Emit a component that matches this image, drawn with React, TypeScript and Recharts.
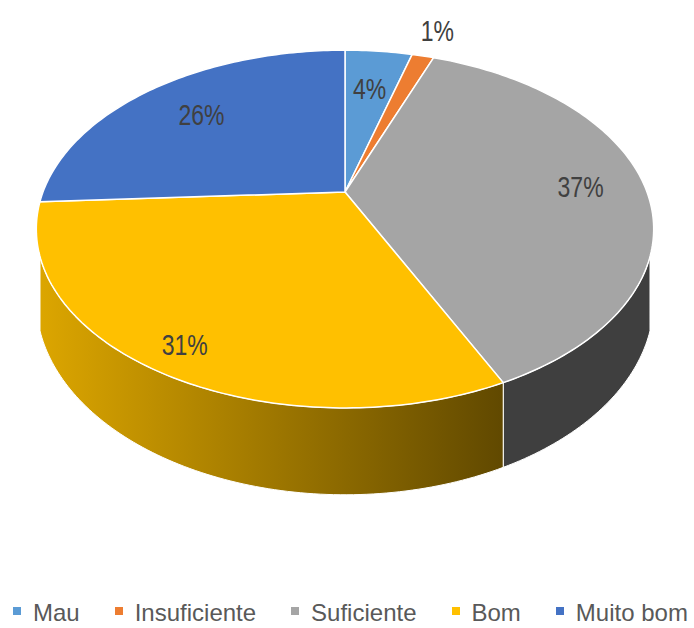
import React from "react";
import { PieChart, Pie, Legend } from "recharts";

const CATEGORIES = ["Mau", "Insuficiente", "Suficiente", "Bom", "Muito bom"];
const SHARES = [4.3, 1.4, 37.3, 31.1, 25.9];

const COLORS = ["#5B9BD5", "#ED7D31", "#A5A5A5", "#FFC000", "#4472C4"];
const FONT = "'Liberation Sans', Arial, sans-serif";

// fake 3D: the flat pie is laid on a tilted plane seen in perspective
const TILT = 0.567; // vertical squash of the disc
const PERSP = 0.207; // front bigger than back
const DEPTH = 0.228; // wall height, relative to radius
const WALL_FROM = 0.35; // walls only show on the front part of the rim

const data = CATEGORIES.map((name, i) => ({ name, value: SHARES[i], fill: COLORS[i] }));

// phi: degrees clockwise from 12 o'clock, r: fraction of radius
function project(cx: number, cy: number, R: number, phi: number, r = 1) {
  const a = (phi * Math.PI) / 180;
  const u = r * Math.sin(a);
  const v = -r * Math.cos(a);
  const s = 1 / (1 - PERSP * v);
  return { x: cx + R * u * s, y: cy + R * TILT * v * s, s };
}

function shade(hex: string, k: number) {
  const n = parseInt(hex.slice(1), 16);
  const c = [(n >> 16) & 255, (n >> 8) & 255, n & 255].map((x) => Math.round(x * k));
  return `rgb(${c.join(",")})`;
}

function arcPoints(cx: number, cy: number, R: number, a0: number, a1: number) {
  const steps = Math.max(2, Math.ceil(a1 - a0));
  const pts = [];
  for (let i = 0; i <= steps; i++) pts.push(project(cx, cy, R, a0 + ((a1 - a0) * i) / steps));
  return pts;
}

const Slice = (props: any) => {
  const { cx, cy, outerRadius: R, startAngle, endAngle, fill, name } = props;
  const a0 = 90 - startAngle;
  const a1 = 90 - endAngle;
  const rim = arcPoints(cx, cy, R, a0, a1);
  const topPath = `M${cx},${cy} ` + rim.map((p) => `L${p.x},${p.y}`).join(" ") + " Z";

  const lim = (Math.acos(-WALL_FROM) * 180) / Math.PI;
  const w0 = Math.max(a0, lim);
  const w1 = Math.min(a1, 360 - lim);
  let wall = null;
  if (w1 > w0) {
    const edge = arcPoints(cx, cy, R, w0, w1);
    const bottom = edge.map((p) => ({ x: p.x, y: p.y + R * DEPTH * p.s })).reverse();
    const d = "M" + [...edge, ...bottom].map((p) => `${p.x},${p.y}`).join(" L") + " Z";
    const id = `wall-${String(name).replace(/\s/g, "")}`;
    wall = (
      <g>
        <defs>
          <linearGradient id={id} gradientUnits="userSpaceOnUse" x1={cx - R} x2={cx + 0.52 * R} y1={0} y2={0}>
            <stop offset="0" stopColor={shade(fill, 0.86)} />
            <stop offset="1" stopColor={shade(fill, 0.38)} />
          </linearGradient>
        </defs>
        <path d={d} fill={`url(#${id})`} stroke="#fff" strokeWidth={1} />
      </g>
    );
  }

  return (
    <g>
      {wall}
      <path d={topPath} fill={fill} stroke="#fff" strokeWidth={1.5} strokeLinejoin="round" />
    </g>
  );
};

const renderLabel = (props: any) => {
  const { cx, cy, midAngle, outerRadius, percent } = props;
  const phi = 90 - midAngle;
  const depth = -Math.cos((phi * Math.PI) / 180);
  const r = percent < 0.02 ? 1.23 : 0.79 + 0.1 * depth;
  const p = project(cx, cy, outerRadius, phi, r);
  return (
    <text
      transform={`translate(${p.x},${p.y}) scale(1,1.3)`}
      textAnchor="middle"
      dominantBaseline="central"
      fill="#404040"
      fontSize={23}
      fontFamily={FONT}
    >
      {`${Math.round(percent * 100)}%`}
    </text>
  );
};

const renderLegend = (props: any) => {
  // keep the data order, not the alphabetical one
  const items = [...(props.payload || [])].sort(
    (a: any, b: any) => CATEGORIES.indexOf(a.value) - CATEGORIES.indexOf(b.value)
  );
  return (
    <div
      style={{
        display: "flex",
        alignItems: "center",
        paddingLeft: 13,
        fontFamily: FONT,
        fontSize: 24,
        lineHeight: "30px",
        color: "#595959",
        whiteSpace: "nowrap",
      }}
    >
      {items.map((entry: any, i: number) => (
        <div key={i} style={{ display: "flex", alignItems: "center", marginLeft: i === 0 ? 0 : 35 }}>
          <span
            style={{
              display: "inline-block",
              width: 8,
              height: 8,
              background: entry.color,
              marginRight: 12,
              position: "relative",
              top: -2,
            }}
          />
          <span>{entry.value}</span>
        </div>
      ))}
    </div>
  );
};

export default function App() {
  return (
    <div style={{ position: "absolute", left: 0, top: 0, width: 694, height: 628, background: "#fff" }}>
      <PieChart width={694} height={628} margin={{ top: 0, right: 0, bottom: 0, left: 0 }}>
        <Pie
          data={data}
          dataKey="value"
          nameKey="name"
          cx={345}
          cy={192}
          outerRadius={302}
          startAngle={90}
          endAngle={-270}
          isAnimationActive={false}
          labelLine={false}
          label={renderLabel}
          shape={Slice}
          activeShape={Slice}
          inactiveShape={Slice}
        />
        <Legend
          content={renderLegend}
          itemSorter={null}
          wrapperStyle={{ position: "absolute", left: 0, top: 598, width: 694, height: 30 }}
        />
      </PieChart>
    </div>
  );
}
